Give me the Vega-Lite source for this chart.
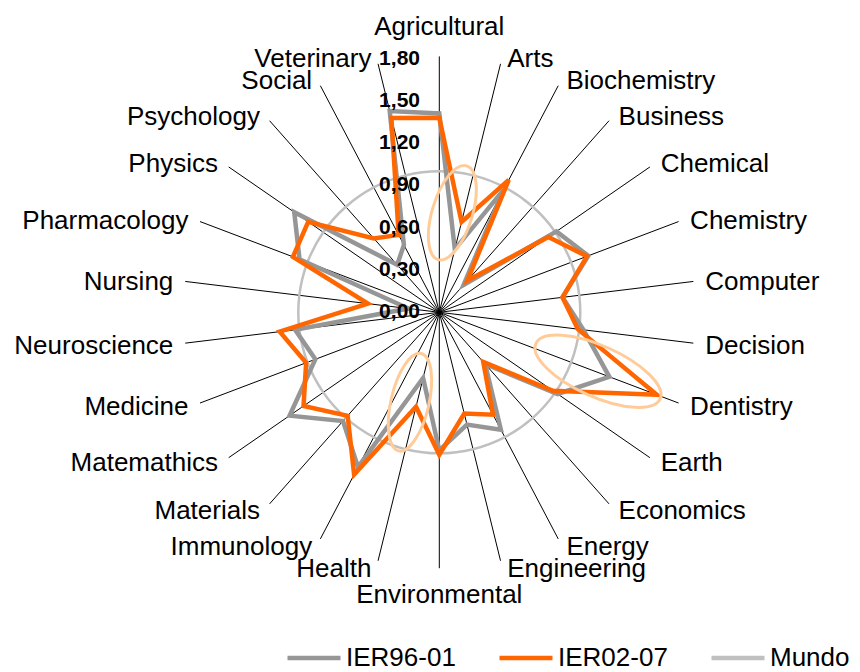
{
  "$schema": "https://vega.github.io/schema/vega-lite/v6.json",
  "width": 860,
  "height": 672,
  "autosize": {"type": "none"},
  "padding": 0,
  "background": "white",
  "config": {"view": {"stroke": null}, "font": "Liberation Sans"},
  "datasets": {
    "scores": [
      {"cat": "Agricultural", "IER96-01": 1.41, "IER02-07": 1.38, "Mundo": 1},
      {"cat": "Arts", "IER96-01": 0.46, "IER02-07": 0.66, "Mundo": 1},
      {"cat": "Biochemistry", "IER96-01": 0.98, "IER02-07": 1.06, "Mundo": 1},
      {"cat": "Business", "IER96-01": 0.26, "IER02-07": 0.30, "Mundo": 1},
      {"cat": "Chemical", "IER96-01": 1.01, "IER02-07": 0.94, "Mundo": 1},
      {"cat": "Chemistry", "IER96-01": 1.13, "IER02-07": 1.12, "Mundo": 1},
      {"cat": "Computer", "IER96-01": 0.88, "IER02-07": 0.88, "Mundo": 1},
      {"cat": "Decision", "IER96-01": 1.03, "IER02-07": 0.99, "Mundo": 1},
      {"cat": "Dentistry", "IER96-01": 1.29, "IER02-07": 1.65, "Mundo": 1},
      {"cat": "Earth", "IER96-01": 1.02, "IER02-07": 0.98, "Mundo": 1},
      {"cat": "Economics", "IER96-01": 0.49, "IER02-07": 0.47, "Mundo": 1},
      {"cat": "Energy", "IER96-01": 0.94, "IER02-07": 0.82, "Mundo": 1},
      {"cat": "Engineering", "IER96-01": 0.82, "IER02-07": 0.74, "Mundo": 1},
      {"cat": "Environmental", "IER96-01": 0.98, "IER02-07": 1.01, "Mundo": 1},
      {"cat": "Health", "IER96-01": 0.48, "IER02-07": 0.69, "Mundo": 1},
      {"cat": "Immunology", "IER96-01": 1.24, "IER02-07": 1.30, "Mundo": 1},
      {"cat": "Materials", "IER96-01": 1.03, "IER02-07": 0.98, "Mundo": 1},
      {"cat": "Matemathics", "IER96-01": 1.29, "IER02-07": 1.17, "Mundo": 1},
      {"cat": "Medicine", "IER96-01": 0.94, "IER02-07": 1.01, "Mundo": 1},
      {"cat": "Neuroscience", "IER96-01": 1.03, "IER02-07": 1.14, "Mundo": 1},
      {"cat": "Nursing", "IER96-01": 0.22, "IER02-07": 0.51, "Mundo": 1},
      {"cat": "Pharmacology", "IER96-01": 1.06, "IER02-07": 1.11, "Mundo": 1},
      {"cat": "Physics", "IER96-01": 1.25, "IER02-07": 1.13, "Mundo": 1},
      {"cat": "Psychology", "IER96-01": 0.45, "IER02-07": 0.70, "Mundo": 1},
      {"cat": "Social", "IER96-01": 0.54, "IER02-07": 0.62, "Mundo": 1},
      {"cat": "Veterinary", "IER96-01": 1.47, "IER02-07": 1.42, "Mundo": 1}
    ],
    "ticks": [
      {"v": 0, "t": "0,00"},
      {"v": 0.3, "t": "0,30"},
      {"v": 0.6, "t": "0,60"},
      {"v": 0.9, "t": "0,90"},
      {"v": 1.2, "t": "1,20"},
      {"v": 1.5, "t": "1,50"},
      {"v": 1.8, "t": "1,80"}
    ]
  },
  "layer": [
    {
      "data": {"name": "scores"},
      "transform": [
        {"window": [{"op": "row_number", "as": "idx"}]},
        {"calculate": "(datum.idx - 1) * 2 * PI / 26", "as": "a"},
        {"calculate": "0", "as": "o"},
        {"calculate": "1.815 * sin(datum.a)", "as": "ex"},
        {"calculate": "1.815 * cos(datum.a)", "as": "ey"}
      ],
      "mark": {"type": "rule", "color": "black", "strokeWidth": 1},
      "encoding": {
        "x": {"field": "o", "type": "quantitative", "scale": {"domain": [-3.1156, 2.9837], "nice": false, "zero": false}, "axis": null},
        "y": {"field": "o", "type": "quantitative", "scale": {"domain": [-2.5511, 2.2149], "nice": false, "zero": false}, "axis": null},
        "x2": {"field": "ex"},
        "y2": {"field": "ey"}
      }
    },
    {
      "data": {"name": "scores"},
      "transform": [
        {"window": [{"op": "row_number", "as": "idx"}]},
        {"calculate": "(datum.idx - 1) * 2 * PI / 26", "as": "a"},
        {"fold": ["IER96-01", "IER02-07", "Mundo"], "as": ["series", "v"]},
        {"filter": "datum.series == 'Mundo'"},
        {"calculate": "datum.v * sin(datum.a)", "as": "x"},
        {"calculate": "datum.v * cos(datum.a)", "as": "y"}
      ],
      "mark": {"type": "line", "interpolate": "cardinal-closed", "strokeWidth": 2.5},
      "encoding": {
        "x": {"field": "x", "type": "quantitative", "scale": {"domain": [-3.1156, 2.9837], "nice": false, "zero": false}, "axis": null},
        "y": {"field": "y", "type": "quantitative", "scale": {"domain": [-2.5511, 2.2149], "nice": false, "zero": false}, "axis": null},
        "order": {"field": "idx", "type": "quantitative"},
        "color": {"field": "series", "type": "nominal", "scale": {"domain": ["IER96-01", "IER02-07", "Mundo"], "range": ["#969696", "#FF6600", "#C0C0C0"]},
          "legend": {"orient": "none", "legendX": 285, "legendY": 629, "direction": "horizontal", "title": null, "symbolType": "stroke", "symbolSize": 2809, "symbolStrokeWidth": 4.5, "labelFontSize": 26, "labelFont": "Liberation Sans", "labelColor": "black", "labelOffset": 3, "columnPadding": 34, "labelLimit": 0}}
      }
    },
    {
      "data": {"name": "scores"},
      "transform": [
        {"window": [{"op": "row_number", "as": "idx"}]},
        {"calculate": "(datum.idx - 1) * 2 * PI / 26", "as": "a"},
        {"fold": ["IER96-01", "IER02-07", "Mundo"], "as": ["series", "v"]},
        {"filter": "datum.series == 'IER96-01'"},
        {"calculate": "datum.v * sin(datum.a)", "as": "x"},
        {"calculate": "datum.v * cos(datum.a)", "as": "y"}
      ],
      "mark": {"type": "line", "interpolate": "linear-closed", "strokeWidth": 4.5},
      "encoding": {
        "x": {"field": "x", "type": "quantitative", "scale": {"domain": [-3.1156, 2.9837], "nice": false, "zero": false}, "axis": null},
        "y": {"field": "y", "type": "quantitative", "scale": {"domain": [-2.5511, 2.2149], "nice": false, "zero": false}, "axis": null},
        "order": {"field": "idx", "type": "quantitative"},
        "color": {"field": "series", "type": "nominal"}
      }
    },
    {
      "data": {"name": "scores"},
      "transform": [
        {"window": [{"op": "row_number", "as": "idx"}]},
        {"calculate": "(datum.idx - 1) * 2 * PI / 26", "as": "a"},
        {"fold": ["IER96-01", "IER02-07", "Mundo"], "as": ["series", "v"]},
        {"filter": "datum.series == 'IER02-07'"},
        {"calculate": "datum.v * sin(datum.a)", "as": "x"},
        {"calculate": "datum.v * cos(datum.a)", "as": "y"}
      ],
      "mark": {"type": "line", "interpolate": "linear-closed", "strokeWidth": 4.5},
      "encoding": {
        "x": {"field": "x", "type": "quantitative", "scale": {"domain": [-3.1156, 2.9837], "nice": false, "zero": false}, "axis": null},
        "y": {"field": "y", "type": "quantitative", "scale": {"domain": [-2.5511, 2.2149], "nice": false, "zero": false}, "axis": null},
        "order": {"field": "idx", "type": "quantitative"},
        "color": {"field": "series", "type": "nominal"}
      }
    },
    {
      "data": {"name": "scores"},
      "transform": [
        {"window": [{"op": "row_number", "as": "idx"}]},
        {"calculate": "(datum.idx - 1) * 2 * PI / 26", "as": "a"},
        {"filter": "datum.cat == 'Arts'"},
        {"calculate": "0.7275 * sin(datum.a)", "as": "x"},
        {"calculate": "0.7275 * cos(datum.a)", "as": "y"}
      ],
      "mark": {"type": "point", "shape": "M-1,0C-1,-0.2264,-0.5523,-0.41,0,-0.41C0.5523,-0.41,1,-0.2264,1,0C1,0.2264,0.5523,0.41,0,0.41C-0.5523,0.41,-1,0.2264,-1,0Z", "size": 9604, "angle": -73, "filled": false, "stroke": "#FFCC99", "strokeWidth": 3, "opacity": 1, "xOffset": -11.5},
      "encoding": {
        "x": {"field": "x", "type": "quantitative", "scale": {"domain": [-3.1156, 2.9837], "nice": false, "zero": false}, "axis": null},
        "y": {"field": "y", "type": "quantitative", "scale": {"domain": [-2.5511, 2.2149], "nice": false, "zero": false}, "axis": null}
      }
    },
    {
      "data": {"name": "scores"},
      "transform": [
        {"window": [{"op": "row_number", "as": "idx"}]},
        {"calculate": "(datum.idx - 1) * 2 * PI / 26", "as": "a"},
        {"filter": "datum.cat == 'Dentistry'"},
        {"calculate": "1.2 * sin(datum.a)", "as": "x"},
        {"calculate": "1.2 * cos(datum.a)", "as": "y"}
      ],
      "mark": {"type": "point", "shape": "M-1,0C-1,-0.2071,-0.5523,-0.375,0,-0.375C0.5523,-0.375,1,-0.2071,1,0C1,0.2071,0.5523,0.375,0,0.375C-0.5523,0.375,-1,0.2071,-1,0Z", "size": 18496, "angle": 24, "filled": false, "stroke": "#FFCC99", "strokeWidth": 3, "opacity": 1, "xOffset": 0.5, "yOffset": -1},
      "encoding": {
        "x": {"field": "x", "type": "quantitative", "scale": {"domain": [-3.1156, 2.9837], "nice": false, "zero": false}, "axis": null},
        "y": {"field": "y", "type": "quantitative", "scale": {"domain": [-2.5511, 2.2149], "nice": false, "zero": false}, "axis": null}
      }
    },
    {
      "data": {"name": "scores"},
      "transform": [
        {"window": [{"op": "row_number", "as": "idx"}]},
        {"calculate": "(datum.idx - 1) * 2 * PI / 26", "as": "a"},
        {"filter": "datum.cat == 'Health'"},
        {"calculate": "0.653 * sin(datum.a)", "as": "x"},
        {"calculate": "0.653 * cos(datum.a)", "as": "y"}
      ],
      "mark": {"type": "point", "shape": "M-1,0C-1,-0.2099,-0.5523,-0.38,0,-0.38C0.5523,-0.38,1,-0.2099,1,0C1,0.2099,0.5523,0.38,0,0.38C-0.5523,0.38,-1,0.2099,-1,0Z", "size": 10000, "angle": -77, "filled": false, "stroke": "#FFCC99", "strokeWidth": 3, "opacity": 1, "xOffset": -7.3, "yOffset": 0.5},
      "encoding": {
        "x": {"field": "x", "type": "quantitative", "scale": {"domain": [-3.1156, 2.9837], "nice": false, "zero": false}, "axis": null},
        "y": {"field": "y", "type": "quantitative", "scale": {"domain": [-2.5511, 2.2149], "nice": false, "zero": false}, "axis": null}
      }
    },
    {
      "data": {"name": "ticks"},
      "transform": [{"calculate": "0", "as": "o"}],
      "mark": {"type": "text", "align": "right", "baseline": "middle", "dx": -19.3, "fontSize": 21, "fontWeight": "bold", "color": "black", "font": "Liberation Sans"},
      "encoding": {
        "x": {"field": "o", "type": "quantitative", "scale": {"domain": [-3.1156, 2.9837], "nice": false, "zero": false}, "axis": null},
        "y": {"field": "v", "type": "quantitative", "scale": {"domain": [-2.5511, 2.2149], "nice": false, "zero": false}, "axis": null},
        "text": {"field": "t"}
      }
    },
    {
      "data": {"name": "scores"},
      "transform": [
        {"window": [{"op": "row_number", "as": "idx"}]},
        {"calculate": "(datum.idx - 1) * 2 * PI / 26", "as": "a"},
        {"calculate": "sin(datum.a)", "as": "s"},
        {"calculate": "cos(datum.a)", "as": "c"},
        {"filter": "datum.s > 0.05"},
        {"calculate": "1.865 * datum.s + 0.035", "as": "lx"},
        {"calculate": "1.865 * datum.c - 0.011", "as": "ly"}
      ],
      "mark": {"type": "text", "align": "left", "baseline": "middle", "fontSize": 26, "color": "black", "font": "Liberation Sans"},
      "encoding": {
        "x": {"field": "lx", "type": "quantitative", "scale": {"domain": [-3.1156, 2.9837], "nice": false, "zero": false}, "axis": null},
        "y": {"field": "ly", "type": "quantitative", "scale": {"domain": [-2.5511, 2.2149], "nice": false, "zero": false}, "axis": null},
        "text": {"field": "cat"}
      }
    },
    {
      "data": {"name": "scores"},
      "transform": [
        {"window": [{"op": "row_number", "as": "idx"}]},
        {"calculate": "(datum.idx - 1) * 2 * PI / 26", "as": "a"},
        {"calculate": "sin(datum.a)", "as": "s"},
        {"calculate": "cos(datum.a)", "as": "c"},
        {"filter": "datum.s < -0.05"},
        {"calculate": "1.865 * datum.s - 0.035", "as": "lx"},
        {"calculate": "1.865 * datum.c - 0.011", "as": "ly"}
      ],
      "mark": {"type": "text", "align": "right", "baseline": "middle", "fontSize": 26, "color": "black", "font": "Liberation Sans"},
      "encoding": {
        "x": {"field": "lx", "type": "quantitative", "scale": {"domain": [-3.1156, 2.9837], "nice": false, "zero": false}, "axis": null},
        "y": {"field": "ly", "type": "quantitative", "scale": {"domain": [-2.5511, 2.2149], "nice": false, "zero": false}, "axis": null},
        "text": {"field": "cat"}
      }
    },
    {
      "data": {"name": "scores"},
      "transform": [
        {"window": [{"op": "row_number", "as": "idx"}]},
        {"calculate": "(datum.idx - 1) * 2 * PI / 26", "as": "a"},
        {"calculate": "sin(datum.a)", "as": "s"},
        {"calculate": "cos(datum.a)", "as": "c"},
        {"filter": "abs(datum.s) <= 0.05"},
        {"calculate": "0", "as": "lx"},
        {"calculate": "datum.c > 0 ? 2.021 : -2.006", "as": "ly"}
      ],
      "mark": {"type": "text", "align": "center", "baseline": "middle", "fontSize": 26, "color": "black", "font": "Liberation Sans"},
      "encoding": {
        "x": {"field": "lx", "type": "quantitative", "scale": {"domain": [-3.1156, 2.9837], "nice": false, "zero": false}, "axis": null},
        "y": {"field": "ly", "type": "quantitative", "scale": {"domain": [-2.5511, 2.2149], "nice": false, "zero": false}, "axis": null},
        "text": {"field": "cat"}
      }
    }
  ]
}
